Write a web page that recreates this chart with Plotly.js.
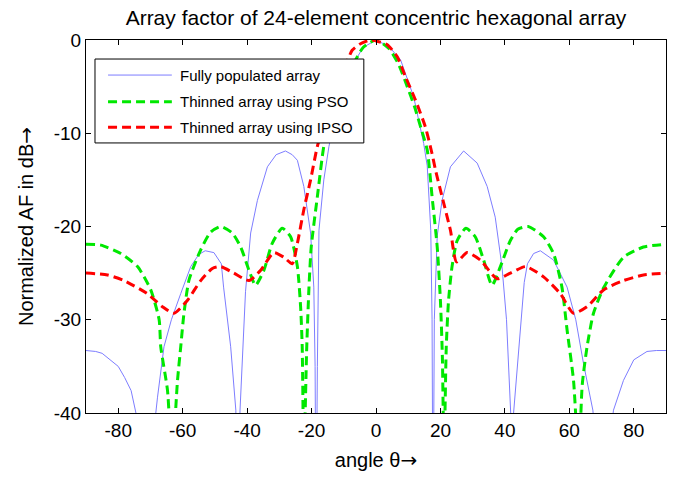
<!DOCTYPE html>
<html>
<head>
<meta charset="utf-8">
<script src="https://cdn.plot.ly/plotly-3.0.1.min.js"></script>
<style>html,body{margin:0;padding:0;background:#fff;}#chart{width:675px;height:478px;}</style>
</head>
<body>
<div id="chart"></div>
<script>
// Fully populated array
var blueTheta = [-90,-87,-85,-83,-80,-78,-76,-74.5,-72,-70,-68.5,-67.8,-65.8,-63.5,-60.6,-57.5,-55,-53,-50.3,-48,-47.3,-45.1,-43.5,-42.8,-42.2,-41.3,-40.5,-38.9,-36.8,-33.7,-31,-28.1,-26,-24.4,-22.4,-20.3,-19.3,-18.9,-18.6,-18.2,-17.7,-16.2,-14.6,-12,-8,-4,0,4,7.6,11.7,14.8,15.9,17,17.4,17.7,18.1,19,20.5,23.1,27.2,31.4,34.5,37,39.1,40.5,41.8,42.2,42.7,45.2,46,47,48.9,51,55.1,59.3,62,64.4,67.3,70,73.7,76.8,80,84.1,87,90];
var blueAF    = [-33.3,-33.4,-33.6,-34.2,-35.0,-36.2,-37.6,-40,-45,-50,-40.5,-38.3,-32.9,-30,-27.2,-24.3,-23.0,-22.6,-22.8,-24,-26.5,-32.9,-39.7,-55,-39.7,-32.9,-27,-20.7,-17.2,-13.6,-12.3,-11.9,-12.3,-12.9,-15.7,-20.7,-26.5,-35,-55,-35,-20.4,-15,-11.4,-7.2,-3.1,-0.8,0,-0.7,-2.1,-6.1,-11.1,-13.5,-20.4,-30,-55,-30,-21,-17.2,-13.6,-11.9,-13.2,-15.7,-19,-24.3,-30,-40,-55,-40,-30,-26,-24,-22.9,-22.6,-23.6,-26.5,-30,-34.7,-39.7,-50,-39.7,-36.5,-34.3,-33.4,-33.3,-33.3];
// Thinned array using PSO
var greenTheta = [-90,-85.4,-79.2,-74,-69.9,-67.3,-66.8,-64.7,-63.3,-61.6,-60.6,-59.6,-58,-54.4,-51.3,-48.2,-44.6,-42,-39.4,-37.4,-34.8,-32.2,-29.1,-26.5,-24.4,-23.4,-22.9,-22.4,-21.5,-20.8,-20.1,-18.2,-16.2,-14,-10,-7,-4,0,4,7,9.7,12,14,15.9,17.4,19,20,20.6,21.1,21.8,22.5,23.6,25.2,27.9,30.8,33.4,36,38.6,41.7,44,47.2,52,55.1,57.7,59.3,61.3,62.9,64,65.5,67.5,70.6,76.8,83,90];
var greenAF    = [-21.9,-22.0,-22.9,-24.3,-26.8,-30,-32.9,-37.6,-45,-36.5,-32.9,-29.3,-25.7,-22.5,-20.6,-20,-20.7,-22.2,-24.7,-26.3,-24.7,-21.8,-20.2,-21.1,-24.3,-28.6,-32.9,-45,-33,-26.5,-22.2,-16.8,-11.4,-8,-5,-2.6,-0.8,0,-0.9,-2.6,-5,-7.2,-9.5,-11.8,-16.8,-22.2,-28,-34,-45,-33,-28,-24.3,-21.5,-20.2,-21.1,-23.6,-26.3,-24.3,-21.5,-20.3,-20,-21.1,-22.9,-26.5,-31.1,-36.5,-45,-37,-32.9,-29.3,-26.6,-23.3,-22.2,-21.9];
// Thinned array using IPSO
var redTheta = [-90,-83.3,-78.2,-71,-66.3,-62.7,-58.5,-54.4,-50.8,-48.2,-44.1,-39.4,-35.8,-31.7,-28.6,-26,-24.4,-22.4,-20.3,-18.2,-16,-14,-12,-10,-8.6,-7.4,-4.8,-1.7,1,3.5,6.6,9.1,12.2,15.3,17.4,18.5,20.5,23.1,25,28.3,32.4,37.6,41.7,46.4,52,57.2,61.3,65.5,70.6,76.8,83,90];
var redAF    = [-25.0,-25.2,-25.8,-27.2,-28.6,-29.3,-27.9,-25.8,-24.5,-24.3,-25,-25.8,-24.7,-22.8,-23.3,-24,-21.8,-18.2,-15,-11.4,-8.9,-6.8,-4.9,-3.1,-2.0,-1.1,-0.4,0,-0.2,-0.5,-1.8,-3.9,-6.4,-9.3,-12.2,-14,-16.8,-20.4,-23.8,-22.8,-23.6,-25.6,-25,-24.3,-25.4,-27.2,-29.3,-28.6,-26.8,-25.8,-25.2,-25.0];

var seriesNames = ['Fully populated array', 'Thinned array using PSO', 'Thinned array using IPSO'];
var xTicks = [-80,-60,-40,-20,0,20,40,60,80];
var yTicks = [-40,-30,-20,-10,0];

var FONT = 'Liberation Sans, Arial, Helvetica, sans-serif';
var ARROW = '<span style="font-family:DejaVu Sans">→</span>';
var blueColor = 'rgb(125,125,255)', greenColor = '#00e800', redColor = '#ff0000';
var DASH = '9px,5px';

var traces = [
  {x: blueTheta, y: blueAF, name: seriesNames[0], mode: 'lines', line: {color: blueColor, width: 1}},
  {x: greenTheta, y: greenAF, name: seriesNames[1], mode: 'lines', line: {color: greenColor, width: 3, dash: DASH, shape: 'spline', smoothing: 0.6}},
  {x: redTheta, y: redAF, name: seriesNames[2], mode: 'lines', line: {color: redColor, width: 3, dash: DASH, shape: 'spline', smoothing: 0.6}}
];

// legend drawn as a box, like the MATLAB legend
var legX0 = 0.0155, legX1 = 0.479, legY0 = 0.724, legY1 = 0.949;
var rowY = [0.906, 0.8346, 0.766];
var sampleX0 = 0.038, sampleX1 = 0.148, textX = 0.158;
var legColors = [blueColor, greenColor, redColor];
var legWidths = [1, 3, 3];
var legDash = ['solid', DASH, DASH];

var shapes = [{type: 'rect', xref: 'paper', yref: 'paper', x0: legX0, x1: legX1, y0: legY0, y1: legY1,
  line: {color: '#000', width: 1}, fillcolor: '#fff', layer: 'above'}];
var annotations = [];
for (var i = 0; i < 3; i++) {
  shapes.push({type: 'line', xref: 'paper', yref: 'paper', x0: sampleX0, x1: sampleX1, y0: rowY[i], y1: rowY[i],
    line: {color: legColors[i], width: legWidths[i], dash: legDash[i]}, layer: 'above'});
  annotations.push({xref: 'paper', yref: 'paper', x: textX, y: rowY[i], xanchor: 'left', yanchor: 'middle',
    text: seriesNames[i], showarrow: false, font: {family: FONT, size: 15, color: '#000'}});
}

var layout = {
  width: 675, height: 478,
  margin: {l: 86, r: 9, t: 40, b: 65},
  paper_bgcolor: '#fff', plot_bgcolor: '#fff',
  showlegend: false,
  font: {family: FONT, color: '#000'},
  title: {text: 'Array factor of 24-element concentric hexagonal array', font: {family: FONT, size: 21, color: '#000'},
    x: 0.5, xref: 'paper', xanchor: 'center', y: 0.963, yref: 'container', yanchor: 'middle'},
  xaxis: {range: [-90, 90], tickvals: xTicks, ticktext: xTicks.map(String), ticks: 'inside', ticklen: 5, tickwidth: 1, tickcolor: '#000',
    showline: true, linecolor: '#000', linewidth: 1, mirror: 'ticks', showgrid: false, zeroline: false,
    tickfont: {family: FONT, size: 19, color: '#000'},
    title: {text: 'angle θ' + ARROW, font: {family: FONT, size: 20, color: '#000'}, standoff: 13}},
  yaxis: {range: [-40, 0], tickvals: yTicks, ticktext: yTicks.map(String), ticks: 'inside', ticklen: 5, tickwidth: 1, tickcolor: '#000',
    showline: true, linecolor: '#000', linewidth: 1, mirror: 'ticks', showgrid: false, zeroline: false,
    tickfont: {family: FONT, size: 19, color: '#000'},
    title: {text: 'Normalized AF in dB' + ARROW, font: {family: FONT, size: 20, color: '#000'}, standoff: 14}},
  shapes: shapes,
  annotations: annotations
};

Plotly.newPlot('chart', traces, layout, {staticPlot: true, displayModeBar: false});
</script>
</body>
</html>
